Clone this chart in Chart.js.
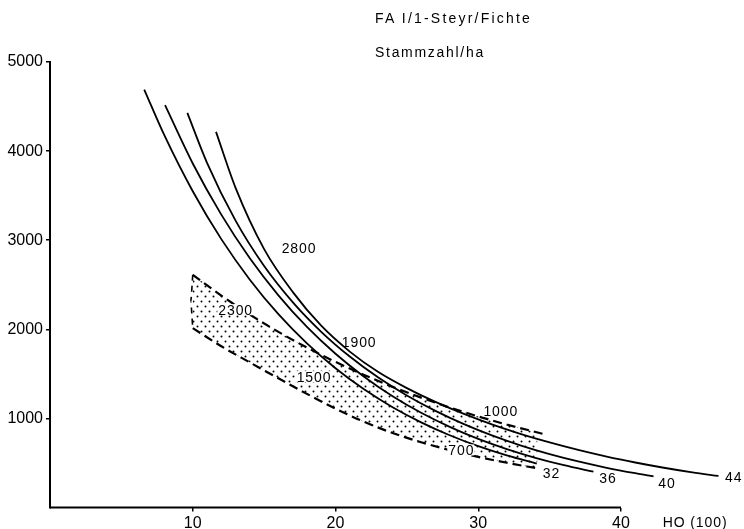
<!DOCTYPE html>
<html>
<head>
<meta charset="utf-8">
<script src="https://cdn.jsdelivr.net/npm/chart.js@4.4.1/dist/chart.umd.min.js"></script>
<style>
  html, body { margin:0; padding:0; background:#fff; }
  #wrap { position:relative; width:744px; height:529px; }
  canvas { position:absolute; left:0; top:0; }
  .ttl { position:absolute; left:375px; font-family:"Liberation Sans", Arial, sans-serif; font-size:14px; line-height:14px; color:#000; white-space:nowrap; }
</style>
</head>
<body>
<div id="wrap">
  <canvas id="c" width="744" height="529"></canvas>
  <div class="ttl" style="top:11px; letter-spacing:2.2px">FA I/1-Steyr/Fichte</div>
  <div class="ttl" style="top:45px; letter-spacing:1.7px">Stammzahl/ha</div>
</div>
<script>
// ---- data (HO in m, stems per ha) ----
const xTicks = [10, 20, 30, 40];
const yTicks = [1000, 2000, 3000, 4000, 5000];

const curve32X = [6.6, 8, 10, 12, 14, 16, 18, 20, 22, 24, 26, 28, 30, 32, 34.1];
const curve32Y = [4690, 4181, 3549, 3012, 2557, 2170, 1842, 1563, 1327, 1126, 956, 811, 688, 584, 492];

const curve36X = [8.06, 10, 12, 14, 16, 18, 20, 22, 24, 26, 28, 30, 32, 34, 36, 38.07];
const curve36Y = [4515, 3861, 3287, 2797, 2381, 2026, 1725, 1468, 1249, 1063, 905, 770, 656, 558, 475, 402];

const curve40X = [9.62, 11, 13, 15, 17, 19, 21, 23, 25, 27, 29, 31, 33, 35, 37, 39, 41, 42.28];
const curve40Y = [4429, 3869, 3219, 2710, 2305, 1972, 1694, 1458, 1257, 1084, 935, 806, 695, 599, 517, 446, 385, 350];

const curve44X = [11.63, 13, 15, 17, 19, 21, 23, 25, 27, 29, 31, 33, 35, 37, 39, 41, 43, 45, 46.83];
const curve44Y = [4216, 3587, 2900, 2420, 2040, 1750, 1520, 1340, 1185, 1050, 930, 824, 730, 646, 571, 505, 446, 394, 354];

const bandUpperX = [10, 12, 14, 16, 18, 20, 22, 24, 26, 28, 30, 32, 34.5];
const bandUpperY = [2612, 2378, 2165, 1971, 1795, 1634, 1488, 1354, 1233, 1123, 1022, 931, 828];

const bandLowerX = [10, 12, 14, 16, 18, 20, 22, 24, 26, 28, 30, 32, 34.13];
const bandLowerY = [2013, 1810, 1628, 1450, 1275, 1110, 962, 836, 732, 644, 568, 502, 440];

const bandEdgeX = [10, 9.85, 10];
const bandEdgeY = [2612, 2310, 2013];

const labelTexts = ['2800', '2300', '1900', '1500', '1000', '700', '32', '36', '40', '44', 'HO (100)'];
const labelX = [16.23, 11.79, 20.44, 17.28, 30.36, 27.9, 34.52, 38.48, 42.61, 47.29, 42.92];
const labelY = [2851, 2164, 1800, 1413, 1028, 590, 328, 278, 219, 290, -219];
const labelKnockout = [false, true, false, true, true, true, false, false, false, false, false];

// ---- build ----
const pts = (xs, ys) => xs.map((x, i) => ({x: x, y: ys[i]}));
const FONT = '"Liberation Sans", Arial, sans-serif';

const canvas = document.getElementById('c');
const ctx0 = canvas.getContext('2d');
const tile = document.createElement('canvas');
tile.width = 8; tile.height = 10;
const tc = tile.getContext('2d');
tc.fillStyle = '#000';
tc.beginPath(); tc.arc(1.5, 1.5, 1.0, 0, Math.PI * 2); tc.fill();
tc.beginPath(); tc.arc(5.5, 6.5, 1.0, 0, Math.PI * 2); tc.fill();
const dots = ctx0.createPattern(tile, 'repeat');

const solid = (xs, ys) => ({
  data: pts(xs, ys), showLine: true, pointRadius: 0, borderColor: '#000',
  borderWidth: 1.8, cubicInterpolationMode: 'monotone', fill: false, clip: false
});
const dashed = (xs, ys, extra) => Object.assign({
  data: pts(xs, ys), showLine: true, pointRadius: 0, borderColor: '#000',
  borderWidth: 2.2, borderDash: [9, 5], cubicInterpolationMode: 'monotone', clip: false
}, extra);

const labelPlugin = {
  id: 'curveLabels',
  afterDatasetsDraw(chart) {
    const {ctx, scales: {x, y}} = chart;
    ctx.save();
    ctx.font = '14px ' + FONT;
    ctx.textBaseline = 'alphabetic';
    ctx.textAlign = 'left';
    if ('letterSpacing' in ctx) ctx.letterSpacing = '0.9px';
    labelTexts.forEach((t, i) => {
      const px = x.getPixelForValue(labelX[i]);
      const py = y.getPixelForValue(labelY[i]);
      if (labelKnockout[i]) {
        const w = ctx.measureText(t).width;
        ctx.fillStyle = '#fff';
        ctx.fillRect(px - 1, py - 10.5, w + 1, 11);
      }
      ctx.fillStyle = '#000';
      ctx.fillText(t, px, py);
    });
    ctx.restore();
  }
};

new Chart(canvas, {
  type: 'scatter',
  data: {
    datasets: [
      solid(curve32X, curve32Y),
      solid(curve36X, curve36Y),
      solid(curve40X, curve40Y),
      solid(curve44X, curve44Y),
      dashed(bandUpperX, bandUpperY, {fill: '+1', backgroundColor: dots}),
      dashed(bandLowerX, bandLowerY, {fill: false}),
      dashed(bandEdgeX, bandEdgeY, {fill: false, borderWidth: 1.6, borderDash: [6, 5]}),
      {data: [{x: 0, y: 0}, {x: 40, y: 0}], showLine: true, pointRadius: 0, borderColor: '#000', borderWidth: 2, clip: false}
    ]
  },
  options: {
    responsive: false,
    animation: false,
    events: [],
    layout: {padding: {top: 62, right: 8.8, bottom: 0, left: 0}},
    plugins: {legend: {display: false}, tooltip: {enabled: false}, title: {display: false}},
    scales: {
      x: {
        type: 'linear', min: 0, max: 48,
        afterBuildTicks: s => { s.ticks = xTicks.map(v => ({value: v})); },
        afterFit: s => { s.height = 21.5; },
        border: {display: false},
        grid: {drawOnChartArea: false, drawTicks: true, tickLength: 4, color: '#000', lineWidth: 1.5},
        ticks: {color: '#000', font: {family: FONT, size: 16}, padding: 2, maxRotation: 0, autoSkip: false, callback: v => String(v)}
      },
      y: {
        type: 'linear', min: 0, max: 5000,
        afterBuildTicks: s => { s.ticks = yTicks.map(v => ({value: v})); },
        afterFit: s => { s.width = 50; },
        border: {display: true, color: '#000', width: 2},
        grid: {drawOnChartArea: false, drawTicks: true, tickLength: 4, color: '#000', lineWidth: 1.5},
        ticks: {color: '#000', font: {family: FONT, size: 16}, padding: 3, autoSkip: false, callback: v => String(v)}
      }
    }
  },
  plugins: [labelPlugin]
});
</script>
</body>
</html>
